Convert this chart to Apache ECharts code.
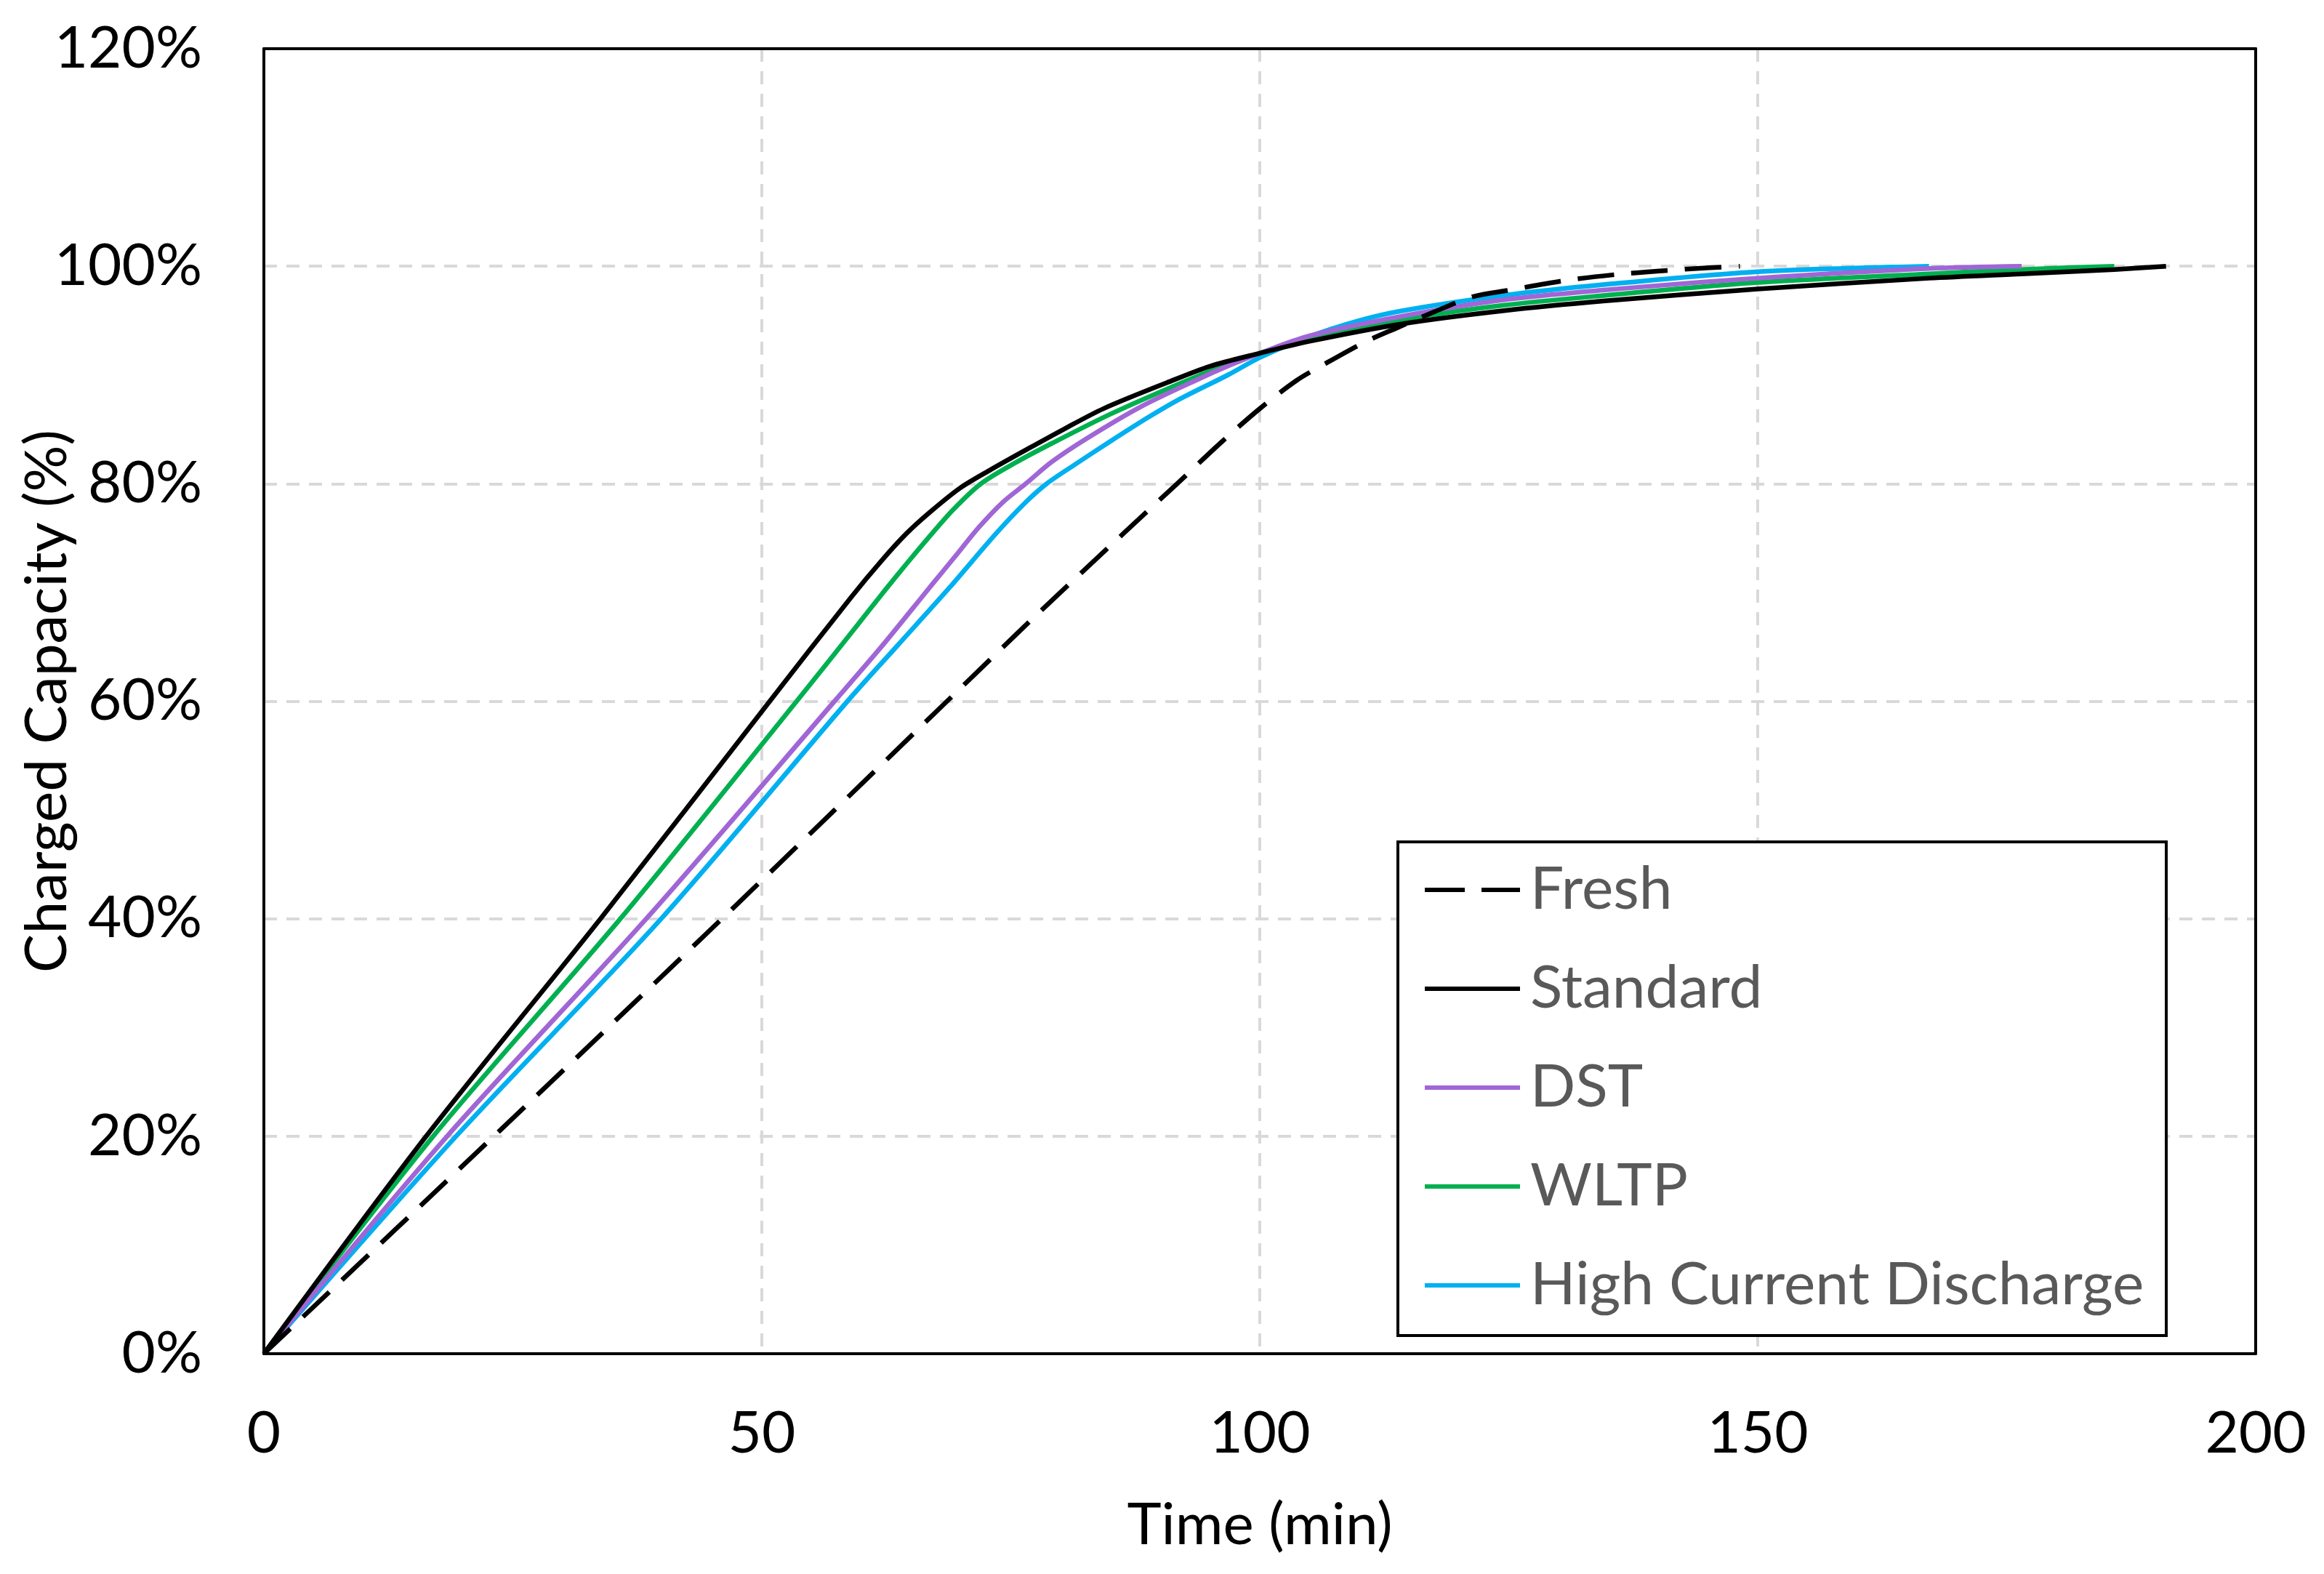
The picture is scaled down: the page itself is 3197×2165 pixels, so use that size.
<!DOCTYPE html>
<html>
<head>
<meta charset="utf-8">
<script src="https://cdn.jsdelivr.net/npm/echarts@6/dist/echarts.min.js"></script>
<style>
html,body{margin:0;padding:0;background:#fff;}
#c{width:3197px;height:2165px;}
</style>
</head>
<body>
<div id="c"></div>
<script>
// Time (min) vs charged capacity (%)
const seriesNames = ['Fresh', 'Standard', 'DST', 'WLTP', 'High Current Discharge'];
const xTicks = [0, 50, 100, 150, 200];
const yTicks = [0, 20, 40, 60, 80, 100, 120];

const fresh = [[0,0],[23.1,20],[46,40],[68.6,60],[77.2,67.6],[86.4,75.5],[91.7,80],[96,83.7],[100,86.9],[103.7,89.5],[106.5,91.0],[110.5,93.0],[113.7,94.3],[117.5,95.8],[121.4,97.2],[125.1,97.8],[130.8,98.7],[136.5,99.3],[142.3,99.7],[148.2,100]];
const standard = [[0,0],[16.3,20],[33.8,40],[50.8,60],[59.0,69.6],[62.0,72.9],[64.5,75.4],[66.9,77.4],[69.9,79.6],[73.0,81.3],[76.7,83.2],[80.3,85.0],[84.3,86.9],[90.7,89.3],[95,90.8],[100,92.0],[105,93.1],[114.3,94.7],[124.4,95.9],[134.5,96.8],[150,97.9],[167.2,98.9],[176.5,99.3],[185.8,99.7],[191,100]];
const dst = [[0,0],[18.4,20],[38.4,40],[57.3,60],[62,65],[66.8,70.4],[69.4,73.3],[71.8,76.0],[74.2,78.3],[76.5,80.0],[79.1,82.0],[82.7,84.2],[88.1,87.1],[93.8,89.6],[97,90.9],[100,92.0],[105,93.6],[114.3,95.4],[124.4,96.9],[134.5,97.8],[150,98.9],[167.2,99.8],[176.5,100]];
const wltp = [[0,0],[17,20],[35.8,40],[53.5,60],[59.6,67.0],[62.1,69.9],[64.5,72.6],[66.7,75.0],[69.2,77.6],[72,80],[75.4,81.9],[79.1,83.7],[85,86.4],[92.2,89.3],[96,90.7],[100,92.0],[105,93.4],[114.3,95.1],[124.4,96.4],[134.5,97.3],[150,98.5],[167.2,99.3],[176.5,99.7],[185.8,100]];
const hcd = [[0,0],[19.3,20],[39.9,40],[58.6,60],[63.6,65.1],[68.8,70.4],[73.5,75.4],[76.5,78.3],[78.6,80],[81.5,81.8],[85,83.9],[88.8,86.1],[92,87.8],[96.8,90.0],[100,91.6],[104.9,93.5],[110,95.0],[114.3,95.9],[124.4,97.3],[134.5,98.3],[150,99.5],[167.2,100]];

const colors = ['#000000', '#000000', '#A066D6', '#00B050', '#00B0F0'];
const dataSets = [fresh, standard, dst, wltp, hcd];
const FONT = 'Lato';
const SOLID_ICON = 'path://M0,0h131v6h-131z';
const DASH_ICON = 'path://M0,0h55v6h-55z M78,0h53v6h-53z';

const chart = echarts.init(document.getElementById('c'), null, {renderer: 'canvas'});

const series = seriesNames.map((name, i) => ({
  name: name,
  type: 'line',
  xAxisIndex: 0,
  yAxisIndex: 0,
  data: dataSets[i],
  showSymbol: false,
  symbol: 'none',
  smooth: 0.3,
  z: 10 - i,
  lineStyle: {
    color: colors[i],
    width: 6.5,
    type: i === 0 ? [50, 24] : 'solid',
    cap: 'butt'
  },
  itemStyle: {color: colors[i]},
  emphasis: {disabled: true}
}));

const frameAxis = {
  type: 'value',
  axisLine: {show: true, onZero: false, lineStyle: {color: '#000', width: 4}},
  axisTick: {show: false},
  axisLabel: {show: false},
  splitLine: {show: false}
};

chart.setOption({
  animation: false,
  backgroundColor: '#ffffff',
  grid: {
    left: 363, right: 94, top: 67, bottom: 303,
    containLabel: false,
    outerBoundsMode: 'none',
    show: false
  },
  xAxis: [{
    type: 'value',
    min: xTicks[0], max: xTicks[xTicks.length - 1], interval: 50,
    name: 'Time (min)',
    nameLocation: 'middle',
    nameGap: 196,
    nameMoveOverlap: false,
    nameTextStyle: {fontFamily: FONT, fontSize: 80, color: '#000'},
    axisLine: {show: true, onZero: false, lineStyle: {color: '#000', width: 4}},
    axisTick: {show: false},
    axisLabel: {fontFamily: FONT, fontSize: 80, color: '#000', margin: 70},
    splitLine: {show: true, lineStyle: {color: '#D9D9D9', width: 4, type: [18, 13]}}
  }, Object.assign({position: 'top', min: 0, max: 200}, frameAxis)],
  yAxis: [{
    type: 'value',
    min: yTicks[0], max: yTicks[yTicks.length - 1], interval: 20,
    name: 'Charged Capacity (%)',
    nameLocation: 'middle',
    nameGap: 258,
    nameRotate: 90,
    nameMoveOverlap: false,
    nameTextStyle: {fontFamily: FONT, fontSize: 80, color: '#000'},
    axisLine: {show: true, onZero: false, lineStyle: {color: '#000', width: 4}},
    axisTick: {show: false},
    axisLabel: {fontFamily: FONT, fontSize: 80, color: '#000', margin: 85, formatter: v => v + '%'},
    splitLine: {show: true, lineStyle: {color: '#D9D9D9', width: 4, type: [18, 13]}}
  }, Object.assign({position: 'right', min: 0, max: 120}, frameAxis)],
  legend: {
    show: true,
    orient: 'vertical',
    left: 1923,
    top: 1158,
    padding: [21, 30, 24, 37],
    itemGap: 46,
    itemWidth: 131,
    itemHeight: 6,
    borderColor: '#000',
    borderWidth: 4,
    backgroundColor: '#fff',
    data: seriesNames.map((n, i) => ({name: n, icon: i === 0 ? DASH_ICON : SOLID_ICON})),
    textStyle: {
      fontFamily: FONT, fontSize: 82, color: '#595959',
      lineHeight: 90, width: 845, padding: [0, 0, 0, 9]
    }
  },
  series: series
});
</script>
</body>
</html>
